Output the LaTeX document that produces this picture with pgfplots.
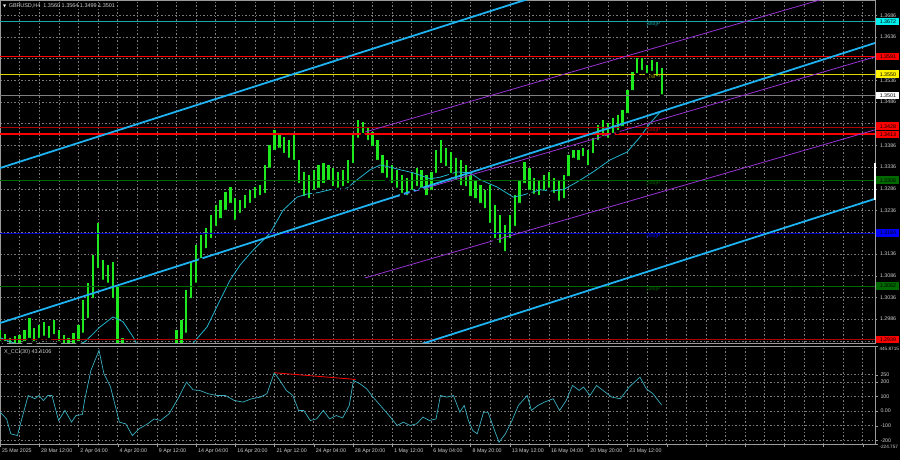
\documentclass[border=0pt]{standalone}
\usepackage{pgfplots}
\pgfplotsset{compat=1.18}
\usepackage{pgfplotstable}
\usepackage{fontspec}
\setmainfont{Liberation Sans}
\newfontfamily\symfont{DejaVu Sans}
\definecolor{gridc}{HTML}{7C7C7C}
\definecolor{framec}{HTML}{9A9A9A}
\definecolor{labc}{HTML}{D0D0D0}
\definecolor{barg}{HTML}{1EE81E}
\definecolor{maline}{HTML}{22B4CC}
\definecolor{trendc}{HTML}{1FB2F0}
\definecolor{purp}{HTML}{9A33D6}
\definecolor{tealc}{HTML}{1AA8A8}
\definecolor{boxcyan}{HTML}{00F0F0}
\definecolor{yelc}{HTML}{D8D800}
\definecolor{dred}{HTML}{B00000}
\definecolor{dgreen}{HTML}{006A00}
\definecolor{bluec}{HTML}{0000FF}
\definecolor{ccic}{HTML}{3AAFC0}

\tikzset{
  mtgrid/.style={gridc, dash pattern=on 1.5bp off 2bp, line width=0.55bp},
  rbox/.style={anchor=west, inner sep=0pt, minimum width=23bp, minimum height=7.5bp,
     font=\fontsize{5.3}{6}\selectfont, text=black, xshift=1.2bp},
}

\pgfplotstableread{
i lo hi
0 1.2931 1.2961
2 1.2931 1.2952
4 1.2924 1.2943
6 1.2920 1.2947
8 1.2924 1.2950
10 1.2931 1.2961
12 1.2938 1.2989
14 1.2931 1.2966
16 1.2938 1.2973
18 1.2943 1.2980
20 1.2938 1.2970
22 1.2947 1.2984
24 1.2931 1.2961
26 1.2920 1.2950
28 1.2915 1.2943
30 1.2927 1.2954
32 1.2931 1.2973
34 1.2950 1.3030
36 1.2984 1.3069
38 1.3030 1.3134
40 1.3099 1.3208
42 1.3072 1.3122
44 1.3065 1.3111
46 1.3030 1.3118
48 1.2927 1.3065
50 1.2869 1.2943
52 1.2860 1.2900
54 1.2830 1.2880
56 1.2780 1.2850
58 1.2720 1.2800
60 1.2720 1.2790
62 1.2750 1.2820
64 1.2760 1.2830
66 1.2790 1.2860
68 1.2820 1.2880
70 1.2850 1.2910
72 1.2881 1.2961
74 1.2915 1.2984
76 1.2950 1.3053
78 1.3030 1.3118
80 1.3065 1.3157
82 1.3122 1.3180
84 1.3145 1.3196
86 1.3168 1.3226
88 1.3196 1.3249
90 1.3214 1.3260
92 1.3233 1.3279
94 1.3249 1.3290
96 1.3210 1.3265
98 1.3226 1.3260
100 1.3237 1.3272
102 1.3249 1.3284
104 1.3260 1.3290
106 1.3267 1.3295
108 1.3272 1.3341
110 1.3330 1.3387
112 1.3371 1.3422
114 1.3376 1.3415
116 1.3364 1.3406
118 1.3353 1.3399
120 1.3348 1.3410
122 1.3295 1.3353
124 1.3265 1.3325
126 1.3260 1.3318
128 1.3279 1.3330
130 1.3284 1.3341
132 1.3295 1.3346
134 1.3302 1.3341
136 1.3288 1.3334
138 1.3284 1.3325
140 1.3288 1.3330
142 1.3295 1.3353
144 1.3341 1.3415
146 1.3399 1.3445
148 1.3410 1.3440
150 1.3394 1.3426
152 1.3380 1.3417
154 1.3348 1.3399
156 1.3318 1.3364
158 1.3307 1.3353
160 1.3295 1.3341
162 1.3284 1.3330
164 1.3272 1.3318
166 1.3267 1.3311
168 1.3279 1.3325
170 1.3288 1.3334
172 1.3284 1.3330
174 1.3267 1.3318
176 1.3279 1.3325
178 1.3318 1.3376
180 1.3341 1.3399
182 1.3334 1.3380
184 1.3318 1.3371
186 1.3302 1.3357
188 1.3290 1.3353
190 1.3288 1.3341
192 1.3265 1.3318
194 1.3260 1.3307
196 1.3249 1.3295
198 1.3237 1.3284
200 1.3203 1.3295
202 1.3168 1.3249
204 1.3157 1.3226
206 1.3138 1.3203
208 1.3168 1.3226
210 1.3196 1.3272
212 1.3249 1.3307
214 1.3295 1.3348
216 1.3279 1.3334
218 1.3270 1.3311
220 1.3267 1.3307
222 1.3277 1.3318
224 1.3284 1.3325
226 1.3272 1.3311
228 1.3254 1.3307
230 1.3260 1.3318
232 1.3311 1.3364
234 1.3353 1.3376
236 1.3348 1.3376
238 1.3357 1.3380
240 1.3336 1.3376
242 1.3364 1.3403
244 1.3394 1.3433
246 1.3403 1.3445
248 1.3399 1.3438
250 1.3410 1.3449
252 1.3417 1.3456
254 1.3426 1.3468
256 1.3456 1.3514
258 1.3509 1.3555
260 1.3548 1.3587
262 1.3555 1.3587
264 1.3548 1.3571
266 1.3553 1.3583
268 1.3541 1.3578
270 1.3499 1.3564
}\bars

\pgfplotstableread{
x y
0 1.2943
4.1 1.2934
8.2 1.2927
16.3 1.2915
28.6 1.2920
34.7 1.2934
40.8 1.2968
46.1 1.2991
50.2 1.2980
54.3 1.2945
57.1 1.2915
65.3 1.2881
73.5 1.2897
78.8 1.2931
84.5 1.2968
89.8 1.3030
93.9 1.3076
98.0 1.3111
103.3 1.3145
110.2 1.3184
115.5 1.3237
121.2 1.3267
125.3 1.3274
129.4 1.3277
134.7 1.3284
141.6 1.3288
145.7 1.3307
151.0 1.3330
155.1 1.3341
159.2 1.3336
163.3 1.3330
168.6 1.3323
175.5 1.3309
179.6 1.3313
186.5 1.3325
191.8 1.3323
195.9 1.3307
202.9 1.3290
209.4 1.3267
213.5 1.3272
220.4 1.3284
224.5 1.3281
229.8 1.3284
235.5 1.3302
242.0 1.3325
249.0 1.3353
255.9 1.3371
261.2 1.3406
265.3 1.3438
269.4 1.3463
}\ma

\pgfplotstableread{
x y
0 -7
2.7 -53
4.4 -155
7.1 -167
8.9 -53
11.5 107
14.2 85
15.9 107
17.7 73
19.5 107
21.2 107
23.9 -64
26.5 5
29.2 -75
31 -30
33.6 -23
34.5 73
37.1 279
40.4 416
42.4 256
45.1 165
48.7 -75
51.3 -87
54 -167
56.7 -121
60.2 -87
62.9 -53
65.5 -64
69 -18
72.6 85
76.1 199
78.8 146
81.4 142
85 119
88.5 107
92 107
95.6 73
99.1 62
102.7 85
106.2 96
108.9 119
111.9 263
114.2 210
116.8 142
119.5 107
121.8 5
123.9 5
126.6 -64
129.2 -53
131.9 5
134.5 -53
137.2 -30
139.8 -46
142.5 39
144.2 210
146.9 187
149.6 153
152.2 96
155.8 27
159.3 -41
162 -98
164.6 -75
167.3 -98
169.9 -87
172.6 -41
175.2 -64
177.9 -53
179.7 107
182.3 96
185 107
187.6 -7
189.4 39
191.1 -64
192.9 -133
194.7 -155
197.3 -7
199.1 -7
201.8 -133
203.6 -213
206.2 -155
208.9 -64
211.5 39
215.1 107
216.8 5
219.5 39
222.1 62
225.7 85
228.3 5
231 73
233.6 176
236.3 142
238.1 165
240.7 107
243.4 176
246 142
249.6 96
253.1 85
256.7 165
261.1 233
263.7 153
266.4 119
269.9 43.41
}\cci

\begin{document}
\begin{tikzpicture}
\fill[black] (0bp,0bp) rectangle (900bp,460bp);
\useasboundingbox (0bp,0bp) rectangle (900bp,460bp);

% ---------------- main price panel ----------------
\begin{axis}[
  at={(0bp,117bp)}, anchor=south west, scale only axis,
  width=875bp, height=343bp,
  xmin=0, xmax=357, ymin=1.2931, ymax=1.3721,
  axis line style={draw=framec, line width=0.8bp},
  xtick={0,16,...,352}, xticklabels={}, minor x tick num=1,
  xmajorgrids, xminorgrids, major x tick style={draw=none}, minor x tick style={draw=none},
  ytick={1.2936,1.2986,1.3036,1.3086,1.3136,1.3186,1.3236,1.3286,1.3336,1.3386,1.3436,1.3486,1.3536,1.3586,1.3636,1.3686},
  yticklabels={,1.2986,1.3036,1.3086,1.3136,,1.3236,1.3286,1.3336,1.3386,,1.3486,1.3536,,1.3636,1.3686},
  ymajorgrids, ytick pos=right, yticklabel pos=right, tick align=outside,
  major tick length=2bp, major y tick style={draw=framec},
  yticklabel style={font=\fontsize{5.3}{6}\selectfont, text=labc, anchor=west, xshift=-0.5bp},
  major grid style={mtgrid}, minor grid style={mtgrid},
]
% OHLC bars (high-low ranges)
\addplot[only marks, mark=none, forget plot,
  error bars/.cd, y dir=plus, y explicit, error mark=none,
  error bar style={draw=barg, line width=2.3bp, solid}]
  table[x=i, y=lo, y error plus expr=\thisrow{hi}-\thisrow{lo}] {\bars};
% moving average
\addplot[maline, line width=0.8bp, mark=none] table[x=x,y=y] {\ma};
% Murrey levels
\addplot[tealc, line width=0.7bp, mark=none] coordinates {(0,1.3672)(357,1.3672)};
\addplot[red, line width=1.6bp, mark=none] coordinates {(0,1.3591)(357,1.3591)};
\addplot[yelc, line width=0.7bp, mark=none] coordinates {(0,1.3550)(357,1.3550)};
\addplot[gray, line width=0.6bp, mark=none] coordinates {(0,1.3501)(357,1.3501)};
\addplot[dred, line width=0.7bp, mark=none] coordinates {(0,1.3428)(357,1.3428)};
\addplot[red, line width=1.6bp, mark=none] coordinates {(0,1.3413)(357,1.3413)};
\addplot[dgreen, line width=0.7bp, mark=none] coordinates {(0,1.3306)(357,1.3306)};
\addplot[bluec!80!black, line width=0.7bp, mark=none] coordinates {(0,1.3184)(357,1.3184)};
\addplot[dgreen, line width=0.7bp, mark=none] coordinates {(0,1.3062)(357,1.3062)};
\addplot[dred, line width=0.7bp, mark=none] coordinates {(0,1.2939)(357,1.2939)};
% regression channel (purple)
\addplot[purp, line width=0.8bp, mark=none] coordinates {(149,1.3417)(357,1.3758)};
\addplot[purp, line width=0.8bp, mark=none] coordinates {(149,1.3247)(357,1.3590)};
\addplot[purp, line width=0.8bp, mark=none] coordinates {(149,1.3081)(357,1.3422)};
% trend channel (thick blue)
\addplot[trendc, line width=1.8bp, mark=none] coordinates {(0,1.3334)(357,1.3979)};
\addplot[trendc, line width=1.8bp, mark=none] coordinates {(0,1.2977)(357,1.3622)};
\addplot[trendc, line width=1.8bp, mark=none] coordinates {(0,1.2618)(357,1.3263)};
% level labels
\node[anchor=north west, inner sep=0.5bp, text=tealc, font=\fontsize{5.3}{6}\selectfont] at (axis cs:263.5,1.3672) {[8/8]P};
\node[anchor=north west, inner sep=0.5bp, text=yelc!80!black, font=\fontsize{5.3}{6}\selectfont] at (axis cs:263.5,1.3550) {[7/8]P};
\node[anchor=north west, inner sep=0.5bp, text=red!85!black, font=\fontsize{5.3}{6}\selectfont] at (axis cs:263.5,1.3428) {[6/8]P};
\node[anchor=north west, inner sep=0.5bp, text=dgreen, font=\fontsize{5.3}{6}\selectfont] at (axis cs:263.5,1.3306) {[5/8]P};
\node[anchor=north west, inner sep=0.5bp, text=bluec, font=\fontsize{5.3}{6}\selectfont] at (axis cs:263.5,1.3184) {[4/8]P};
\node[anchor=north west, inner sep=0.5bp, text=dgreen, font=\fontsize{5.3}{6}\selectfont] at (axis cs:263.5,1.3062) {[3/8]P};
\coordinate (b1) at (axis cs:357,1.3672);
\coordinate (b2) at (axis cs:357,1.3591);
\coordinate (b3) at (axis cs:357,1.3550);
\coordinate (b4) at (axis cs:357,1.3501);
\coordinate (b5) at (axis cs:357,1.3428);
\coordinate (b6) at (axis cs:357,1.3413);
\coordinate (b7) at (axis cs:357,1.3306);
\coordinate (b8) at (axis cs:357,1.3184);
\coordinate (b9) at (axis cs:357,1.3062);
\coordinate (b10) at (axis cs:357,1.2939);
\coordinate (w1) at (axis cs:357,1.3346);
\coordinate (w2) at (axis cs:357,1.3260);
\end{axis}

\draw[white, line width=1.4bp] (w1) -- (w2);
\node[rbox, fill=boxcyan] at (b1) {1.3672};
\node[rbox, fill=red] at (b2) {1.3591};
\node[rbox, fill=yellow] at (b3) {1.3550};
\node[rbox, fill=white] at (b4) {1.3501};
\node[rbox, fill=red, yshift=1bp] at (b5) {1.3428};
\node[rbox, fill=red, yshift=-1bp] at (b6) {1.3413};
\node[rbox, fill=dgreen] at (b7) {1.3306};
\node[rbox, fill=bluec] at (b8) {1.3184};
\node[rbox, fill=dgreen] at (b9) {1.3062};
\node[rbox, fill=red] at (b10) {1.2939};

\node[anchor=west, inner sep=0pt, text=labc, font=\fontsize{5.5}{6}\selectfont] at (3bp,454bp)
  {{\symfont\fontsize{4}{5}\selectfont\color{white}▼}\hspace{2.5bp}GBPUSD,H4\hspace{3bp}1.3560 1.3564 1.3499 1.3501};

% ---------------- CCI panel ----------------
\begin{axis}[
  at={(0bp,16bp)}, anchor=south west, scale only axis,
  width=875bp, height=98bp,
  xmin=0, xmax=357, ymin=-224.757, ymax=445.8715,
  axis line style={draw=framec, line width=0.8bp},
  xtick={0,16,...,352},
  xticklabels={25 Mar 2025,28 Mar 12:00,2 Apr 04:00,4 Apr 20:00,9 Apr 12:00,14 Apr 04:00,16 Apr 20:00,21 Apr 12:00,24 Apr 04:00,28 Apr 20:00,1 May 12:00,6 May 04:00,8 May 20:00,13 May 12:00,16 May 04:00,20 May 20:00,23 May 12:00,,,,,,},
  minor x tick num=1, xmajorgrids, xminorgrids,
  xtick pos=bottom, tick align=outside, major tick length=2.5bp, minor tick length=0bp,
  major x tick style={draw=framec},
  xticklabel style={anchor=north west, font=\fontsize{5.3}{6}\selectfont, text=labc, xshift=-1.5bp, yshift=1bp},
  ytick={-200,-100,0,100,200,250},
  yticklabels={-200,-100,0.00,100,200,250},
  ymajorgrids, ytick pos=right, yticklabel pos=right,
  major y tick style={draw=framec},
  yticklabel style={font=\fontsize{5.3}{6}\selectfont, text=labc, anchor=west, xshift=-0.5bp},
  extra y ticks={445.8715,-224.757}, extra y tick labels={445.8715,-224.757},
  extra y tick style={grid=none, yticklabel style={yshift=-3bp, font=\fontsize{4.7}{5}\selectfont, xshift=-1bp}},
  major grid style={mtgrid}, minor grid style={mtgrid},
]
\addplot[ccic, line width=0.7bp, mark=none] table[x=x,y=y] {\cci};
\addplot[red, line width=0.8bp, mark=none] coordinates {(111.9,263)(145.1,217)};
\end{axis}
\node[anchor=west, inner sep=0pt, text=labc, font=\fontsize{5.5}{6}\selectfont] at (4bp,108bp) {X\_CCI(30) 43.4106};
\end{tikzpicture}
\end{document}
